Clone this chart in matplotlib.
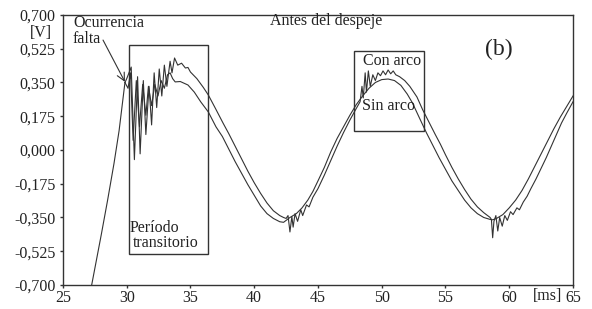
import matplotlib
matplotlib.use('Agg')
import matplotlib.pyplot as plt
from matplotlib.patches import Rectangle

plt.rcParams['font.family'] = ['Liberation Serif', 'DejaVu Serif']

# pre-fault waveform (shared by both cases)
prefault_t = [27.0, 27.25, 28.0, 28.5, 29.0, 29.4, 29.86]
prefault_v = [-0.79, -0.70, -0.44, -0.26, -0.07, 0.10, 0.35]

# voltage without arc
sin_arco_t = [29.86, 30.1, 30.3, 30.5, 30.75, 31.0, 31.25, 31.5, 31.7, 31.95,
              32.2, 32.45, 32.7, 32.95, 33.2, 33.4, 33.6, 33.8, 34.2, 34.8,
              35.3, 35.8, 36.4, 37.0, 37.5, 38.0, 38.5, 39.0, 39.5, 40.0,
              40.5, 41.0, 41.5, 42.0, 42.3, 42.8, 43.3, 43.75, 44.2, 44.6,
              45.0, 45.5, 46.0, 46.5, 47.0, 47.5, 48.0, 48.5, 49.0, 49.5,
              50.0, 50.5, 51.0, 51.5, 52.0, 52.4, 53.0, 53.5, 54.0, 54.5,
              55.0, 55.5, 56.0, 56.5, 57.0, 57.5, 58.0, 58.5, 58.7, 59.0,
              59.5, 60.0, 60.5, 61.0, 61.5, 62.0, 62.5, 63.0, 63.5, 64.0,
              64.5, 65.0]
sin_arco_v = [0.35, 0.32, 0.40, 0.05, 0.36, 0.12, 0.34, 0.18, 0.33, 0.23,
              0.34, 0.28, 0.36, 0.32, 0.39, 0.40, 0.37, 0.353, 0.355, 0.337,
              0.30, 0.25, 0.197, 0.12, 0.07, 0.005, -0.06, -0.12, -0.18, -0.235,
              -0.29, -0.33, -0.355, -0.372, -0.375, -0.35, -0.33, -0.30, -0.26, -0.215,
              -0.16, -0.09, -0.01, 0.06, 0.12, 0.18, 0.235, 0.28, 0.32, 0.35,
              0.365, 0.368, 0.36, 0.335, 0.29, 0.245, 0.16, 0.09, 0.025, -0.04,
              -0.10, -0.16, -0.21, -0.26, -0.30, -0.33, -0.35, -0.36, -0.362, -0.355,
              -0.335, -0.30, -0.26, -0.21, -0.15, -0.085, -0.02, 0.045, 0.11, 0.17,
              0.225, 0.28]

# voltage with arc
con_arco_t = [29.86, 30.0, 30.35, 30.6, 30.85, 31.05, 31.3, 31.5, 31.75, 31.95,
              32.15, 32.35, 32.55, 32.75, 32.95, 33.15, 33.4, 33.55, 33.75, 34.0,
              34.3, 34.6, 34.8, 35.0, 35.5, 36.0, 36.4, 37.0, 37.55, 38.0,
              38.5, 39.0, 39.5, 40.0, 40.5, 41.0, 41.5, 42.0, 42.3, 42.5,
              42.65, 42.8, 42.95, 43.05, 43.2, 43.4, 43.65, 43.8, 44.1, 44.3,
              44.6, 45.0, 45.5, 46.0, 46.5, 47.0, 47.5, 48.0, 48.3, 48.45,
              48.55, 48.7, 48.8, 48.95, 49.1, 49.3, 49.5, 49.7, 49.9, 50.1,
              50.3, 50.5, 50.7, 50.9, 51.1, 51.4, 51.8, 52.2, 52.76, 53.2,
              53.7, 54.2, 54.6, 55.0, 55.5, 56.0, 56.5, 57.0, 57.5, 58.0,
              58.5, 58.6, 58.7, 58.8, 58.95, 59.1, 59.25, 59.45, 59.65, 59.85,
              60.1, 60.3, 60.6, 60.8, 61.1, 61.4, 61.7, 62.1, 62.5, 62.9,
              63.3, 63.7, 64.1, 64.5, 65.0]
con_arco_v = [0.35, 0.37, 0.43, -0.05, 0.38, -0.02, 0.36, 0.08, 0.33, 0.13,
              0.40, 0.22, 0.42, 0.28, 0.44, 0.33, 0.46, 0.40, 0.477, 0.44,
              0.45, 0.425, 0.428, 0.404, 0.37, 0.325, 0.285, 0.21, 0.14, 0.085,
              0.02, -0.045, -0.11, -0.17, -0.225, -0.275, -0.315, -0.34, -0.35, -0.355,
              -0.34, -0.425, -0.345, -0.40, -0.33, -0.37, -0.31, -0.34, -0.285, -0.295,
              -0.245, -0.20, -0.13, -0.055, 0.02, 0.09, 0.155, 0.215, 0.25, 0.33,
              0.27, 0.40, 0.30, 0.41, 0.33, 0.39, 0.36, 0.40, 0.385, 0.41,
              0.39, 0.415, 0.395, 0.41, 0.39, 0.38, 0.36, 0.33, 0.275, 0.21,
              0.145, 0.08, 0.03, -0.025, -0.09, -0.15, -0.205, -0.255, -0.295, -0.325,
              -0.35, -0.36, -0.455, -0.37, -0.34, -0.42, -0.35, -0.395, -0.34, -0.365,
              -0.32, -0.335, -0.30, -0.31, -0.27, -0.24, -0.20, -0.15, -0.095, -0.04,
              0.02, 0.08, 0.14, 0.19, 0.25]

x_ticks = [25, 30, 35, 40, 45, 50, 55, 60, 65]
y_ticks = [-0.7, -0.525, -0.35, -0.175, 0.0, 0.175, 0.35, 0.525, 0.7]
y_labels = ['-0,700', '-0,525', '-0,350', '-0,175', '0,000', '0,175', '0,350', '0,525', '0,700']

ink = '#333333'
fs = 11.5

fig = plt.figure(figsize=(5.92, 3.09), dpi=100)
ax = fig.add_axes([0.1064, 0.0777, 0.8615, 0.8738])

ax.plot(prefault_t, prefault_v, color=ink, lw=0.8)
ax.plot(sin_arco_t, sin_arco_v, color=ink, lw=0.8)
ax.plot(con_arco_t, con_arco_v, color=ink, lw=0.8)

ax.set_xlim(25, 65)
ax.set_ylim(-0.7, 0.7)
ax.set_xticks(x_ticks)
ax.set_xticklabels([str(v) for v in x_ticks], fontsize=fs)
ax.set_yticks(y_ticks)
ax.set_yticklabels(y_labels, fontsize=fs)
ax.tick_params(direction='out', length=2.5, width=1, color=ink, labelcolor='#222222')
ax.tick_params(axis='x', pad=1)
ax.tick_params(axis='y', pad=3)
for s in ax.spines.values():
    s.set_color(ink)
    s.set_linewidth(1)

# boxes
ax.add_patch(Rectangle((30.18, -0.539), 6.19, 1.083, fill=False, ec=ink, lw=1))
ax.add_patch(Rectangle((47.82, 0.098), 5.49, 0.415, fill=False, ec=ink, lw=1))

txt = dict(fontsize=fs, color='#222222', va='baseline', ha='left')
ax.text(25.78, 0.638, 'Ocurrencia', **txt)
ax.text(25.78, 0.555, 'falta', **txt)
ax.text(41.24, 0.648, 'Antes del despeje', **txt)
ax.text(58.1, 0.493, '(b)', fontsize=17, color='#222222', va='baseline', ha='left')
ax.text(48.53, 0.441, 'Con arco', **txt)
ax.text(48.45, 0.207, 'Sin arco', **txt)
ax.text(30.25, -0.425, 'Período', **txt)
ax.text(30.49, -0.503, 'transitorio', **txt)
ax.text(22.41, 0.586, '[V]', clip_on=False, **txt)
ax.text(61.86, -0.778, '[ms]', clip_on=False, **txt)

ax.annotate('', xy=(29.86, 0.353), xytext=(28.14, 0.57),
            arrowprops=dict(arrowstyle='->', color=ink, lw=0.8,
                            mutation_scale=14, shrinkA=0, shrinkB=0))

plt.savefig('out.png', dpi=100)
